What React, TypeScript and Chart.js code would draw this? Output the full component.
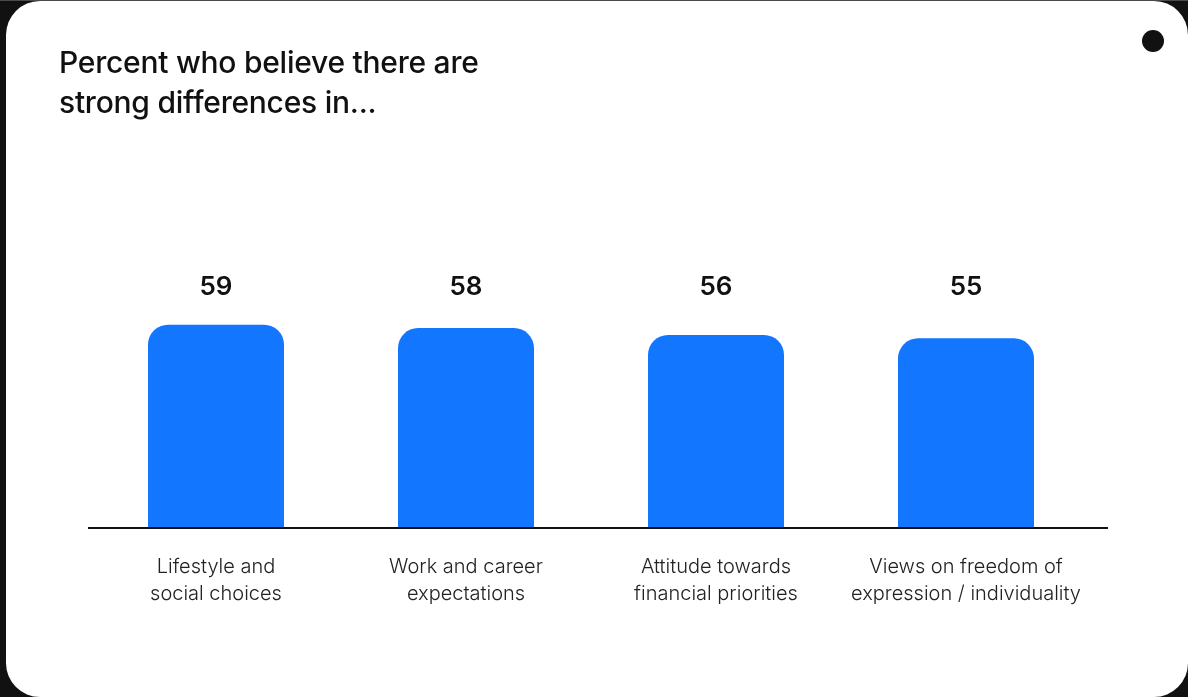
import React, { useEffect, useRef } from "react";
import { Chart, registerables } from "chart.js";

Chart.register(...registerables);

const categories: string[][] = [
  ["Lifestyle and", "social choices"],
  ["Work and career", "expectations"],
  ["Attitude towards", "financial priorities"],
  ["Views on freedom of", "expression / individuality"],
];
const values: number[] = [59, 58, 56, 55];
const titleLines: string[] = ["Percent who believe there are", "strong differences in..."];

const BAR_COLOR = "#1276FF";
const FONT = "Inter, 'Noto Sans', sans-serif";

const backgroundPlugin = {
  id: "cardBackground",
  beforeDraw(chart: any) {
    const { ctx, width, height } = chart;
    ctx.save();
    ctx.fillStyle = "#111111";
    ctx.fillRect(0, 0, width, height);
    ctx.fillStyle = "#4a4a4a";
    ctx.fillRect(0, 0, width, 1);
    ctx.fillStyle = "#ffffff";
    ctx.beginPath();
    (ctx as any).roundRect(6, 1, width - 6, height - 1, 34);
    ctx.fill();
    // dot
    ctx.fillStyle = "#111111";
    ctx.beginPath();
    ctx.arc(1153, 41, 11, 0, Math.PI * 2);
    ctx.fill();
    // title
    ctx.fillStyle = "#111111";
    ctx.font = `500 30px ${FONT}`;
    ctx.textBaseline = "middle";
    ctx.textAlign = "left";
    try { (ctx as any).letterSpacing = "-0.25px"; } catch (e) {}
    titleLines.forEach((t, i) => ctx.fillText(t, 59, 64 + i * 40));
    try { (ctx as any).letterSpacing = "0px"; } catch (e) {}
    ctx.restore();
  },
  afterDatasetsDraw(chart: any) {
    const { ctx, chartArea } = chart;
    ctx.save();
    // axis line
    ctx.strokeStyle = "#111111";
    ctx.lineWidth = 2;
    ctx.beginPath();
    ctx.moveTo(88, chartArea.bottom + 1);
    ctx.lineTo(1108, chartArea.bottom + 1);
    ctx.stroke();
    // value labels, aligned on one row above the bars
    const meta = chart.getDatasetMeta(0);
    ctx.fillStyle = "#111111";
    ctx.font = `600 26px ${FONT}`;
    ctx.textAlign = "center";
    ctx.textBaseline = "middle";
    meta.data.forEach((bar: any, i: number) => {
      ctx.fillText(String(values[i]), bar.x, chartArea.top + 103);
    });
    ctx.restore();
  },
};

export default function App() {
  const canvasRef = useRef<HTMLCanvasElement | null>(null);

  useEffect(() => {
    document.body.style.margin = "0";
    const canvas = canvasRef.current!;
    const chart = new Chart(canvas, {
      type: "bar",
      data: {
        labels: categories as any,
        datasets: [
          {
            data: values,
            backgroundColor: BAR_COLOR,
            borderRadius: { topLeft: 20, topRight: 20, bottomLeft: 0, bottomRight: 0 },
            borderSkipped: false,
            barPercentage: 0.544,
            categoryPercentage: 1,
          },
        ],
      },
      options: {
        responsive: false,
        animation: false,
        devicePixelRatio: 1,
        layout: { padding: { left: 91, right: 97, top: 184, bottom: 40 } },
        plugins: { legend: { display: false }, tooltip: { enabled: false }, title: { display: false } },
        scales: {
          y: { display: false, min: 0, max: 100 },
          x: {
            grid: { display: false, drawTicks: false },
            border: { display: false },
            afterFit: (scale: any) => {
              scale.height = 130;
            },
            ticks: {
              color: "#222222",
              padding: 26,
              maxRotation: 0,
              autoSkip: false,
              font: { family: FONT, size: 20, weight: 300 as any, lineHeight: 1.35 },
            },
          },
        },
      },
      plugins: [backgroundPlugin],
    });
    return () => chart.destroy();
  }, []);

  return (
    <div style={{ position: "fixed", left: 0, top: 0, width: 1188, height: 697, background: "#111" }}>
      <canvas ref={canvasRef} width={1188} height={697} style={{ display: "block" }} />
    </div>
  );
}
